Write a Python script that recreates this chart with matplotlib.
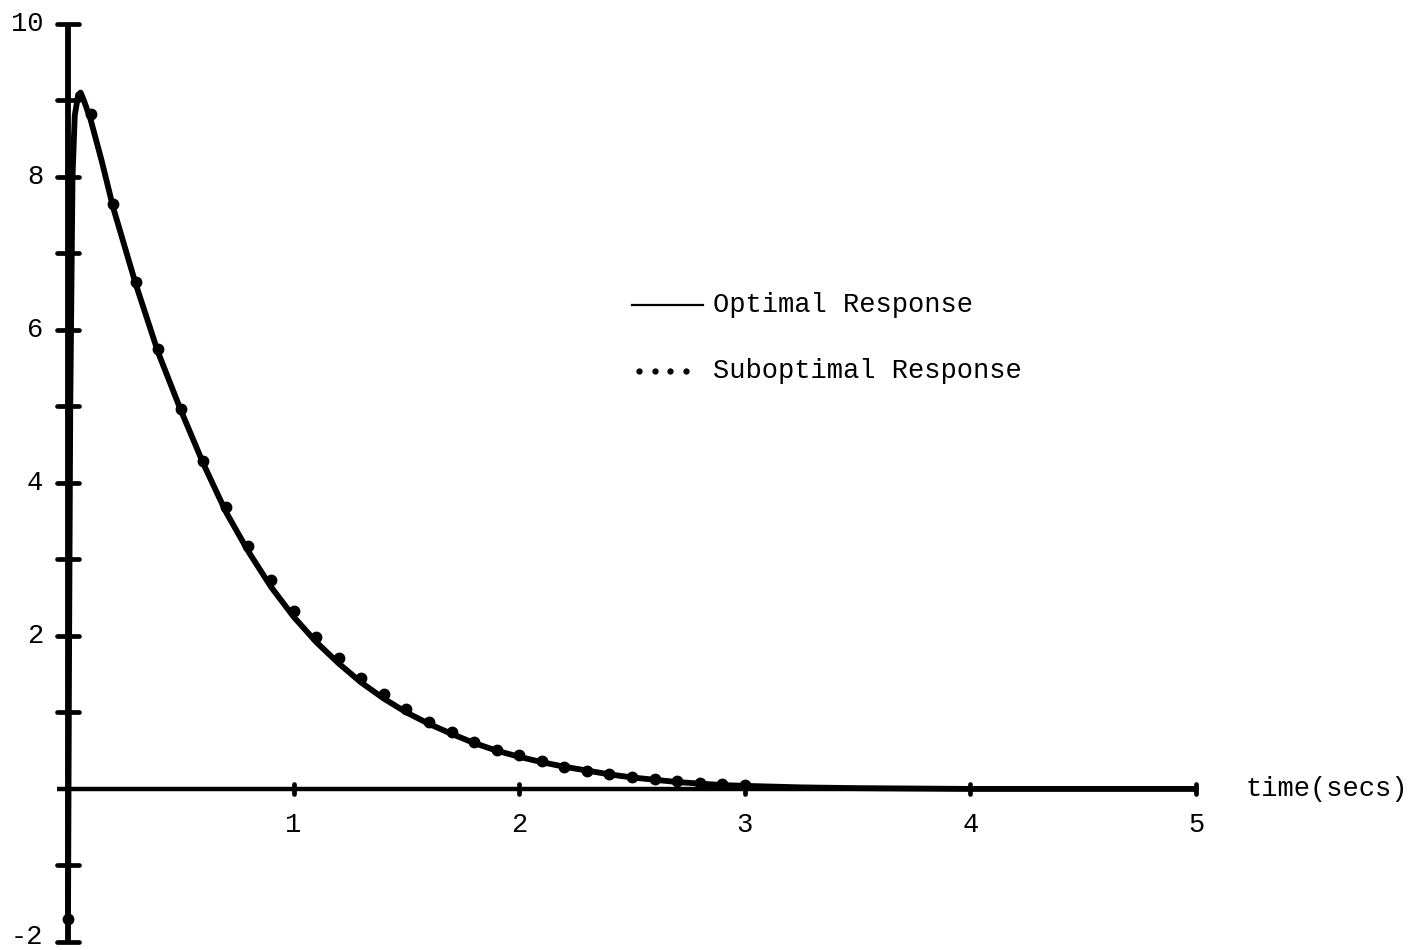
import matplotlib
matplotlib.use("Agg")
import matplotlib.pyplot as plt
import numpy as np

# optimal response (solid line)
t_opt = [0.0, 0.005, 0.01, 0.02, 0.03, 0.045, 0.056, 0.07, 0.1, 0.15,
         0.2, 0.3, 0.4, 0.5, 0.6, 0.7, 0.8, 0.9, 1.0,
         1.1, 1.2, 1.3, 1.4, 1.5, 1.6, 1.7, 1.8, 1.9, 2.0,
         2.1, 2.2, 2.3, 2.4, 2.5, 2.6, 2.7, 2.8, 2.9, 3.0,
         3.25, 3.5, 4.0, 5.0]
y_opt = [-1.7, 2.0, 5.0, 8.0, 8.8, 9.07, 9.1, 9.0, 8.75, 8.2,
         7.6, 6.6, 5.7, 4.95, 4.25, 3.62, 3.1, 2.64, 2.25,
         1.92, 1.64, 1.39, 1.18, 1.0, 0.85, 0.72, 0.6, 0.5, 0.42,
         0.35, 0.29, 0.24, 0.19, 0.15, 0.12, 0.09, 0.07, 0.05, 0.04,
         0.02, 0.01, 0.0, 0.0]

# suboptimal response (dots every 0.1 s)
t_sub = [0.0, 0.1, 0.2, 0.3, 0.4, 0.5, 0.6, 0.7, 0.8, 0.9, 1.0,
         1.1, 1.2, 1.3, 1.4, 1.5, 1.6, 1.7, 1.8, 1.9, 2.0,
         2.1, 2.2, 2.3, 2.4, 2.5, 2.6, 2.7, 2.8, 2.9, 3.0]
y_sub = [-1.7, 8.82, 7.64, 6.62, 5.75, 4.96, 4.28, 3.68, 3.18, 2.73, 2.33,
         1.99, 1.71, 1.45, 1.24, 1.04, 0.87, 0.74, 0.61, 0.51, 0.44,
         0.36, 0.29, 0.24, 0.20, 0.16, 0.13, 0.10, 0.08, 0.06, 0.05]

y_labels = [10, 8, 6, 4, 2, -2]
x_labels = [1, 2, 3, 4, 5]

fig = plt.figure(figsize=(14.11, 9.5), dpi=100)
ax = fig.add_axes([0, 0, 1, 1])
ax.set_xlim(-0.3014, 5.953)
ax.set_ylim(-2.105, 10.31)
ax.axis("off")

font = {"family": "Liberation Mono", "size": 19.5}

# axes drawn by hand like the typed original
ax.plot([0, 0], [-2, 10], color="black", lw=4.2, solid_capstyle="butt")
ax.plot([-0.05, 5.0], [0, 0], color="black", lw=3.2, solid_capstyle="butt")
for v in range(-2, 11):
    if v == 0:
        continue
    ax.plot([-0.048, 0.048], [v, v], color="black", lw=3.4, solid_capstyle="round")
for v in x_labels:
    ax.plot([v, v], [-0.07, 0.07], color="black", lw=3.4, solid_capstyle="round")

for v in y_labels:
    yy = v + 0.06 if v == -2 else v
    ax.text(-0.11, yy, str(v), ha="right", va="center", **font)
for v in x_labels:
    ax.text(v, -0.47, str(v), ha="center", va="center", **font)
ax.text(5.22, 0.0, "time(secs)", ha="left", va="center", **font)

ax.plot(t_opt, y_opt, color="black", lw=4.2, solid_capstyle="round",
        solid_joinstyle="round")
ax.plot(t_sub, y_sub, "o", color="black", ms=7.5)

# legend
ax.plot([2.5, 2.815], [6.33, 6.33], color="black", lw=1.6)
ax.text(2.86, 6.33, "Optimal Response", ha="left", va="center", **font)
ax.plot([2.53, 2.60, 2.67, 2.74], [5.46] * 4, "o", color="black", ms=3.5)
ax.text(2.86, 5.46, "Suboptimal Response", ha="left", va="center", **font)

fig.savefig("out.png", dpi=100, facecolor="white")
